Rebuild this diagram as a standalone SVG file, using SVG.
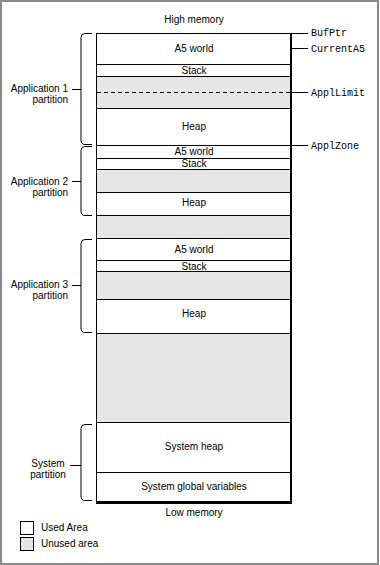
<svg xmlns="http://www.w3.org/2000/svg" width="380" height="565" viewBox="0 0 380 565">
<style>
.t{font-family:"Liberation Sans",Arial,sans-serif;font-size:10px;fill:#000}
.c{text-anchor:middle}
.r{text-anchor:end}
.m{font-family:"Liberation Mono","Courier New",monospace;font-size:10px;fill:#000}
.ln{stroke:#000;stroke-width:1;fill:none}
.u{fill:#e6e6e6}
.w{fill:#fff}
</style>
<rect x="1" y="1" width="377" height="563" fill="#fff" stroke="#8a8a8a" stroke-width="2"/>
<text class="t c" x="194" y="23">High memory</text>
<text class="t c" x="194" y="516">Low memory</text>

<g id="memory-column">
<rect x="96.5" y="33.5" width="194" height="468" class="w" stroke="#000"/>
<rect class="u" x="97" y="77" width="193" height="31"/>
<rect class="u" x="97" y="170" width="193" height="22"/>
<rect class="u" x="97" y="216" width="193" height="22"/>
<rect class="u" x="97" y="272" width="193" height="27"/>
<rect class="u" x="97" y="334" width="193" height="88"/>
<g class="ln">
<path d="M97 64.5H290M97 76.5H290M97 108.5H290M97 145.5H290M97 158.5H290M97 169.5H290M97 192.5H290M97 215.5H290M97 238.5H290M97 260.5H290M97 271.5H290M97 299.5H290M97 333.5H290M97 422.5H290M97 472.5H290"/>
<path d="M97 92.5H290" stroke-dasharray="4 3"/>
</g>
<rect x="290" y="33" width="2" height="471" fill="#000"/>
<rect x="96" y="501" width="196" height="3" fill="#000"/>
</g>

<g id="app1">
<text class="t c" x="194" y="52">A5 world</text>
<text class="t c" x="194" y="73.5">Stack</text>
<text class="t c" x="194" y="130">Heap</text>
</g>
<g id="app2">
<text class="t c" x="194" y="155">A5 world</text>
<text class="t c" x="194" y="166.5">Stack</text>
<text class="t c" x="194" y="206">Heap</text>
</g>
<g id="app3">
<text class="t c" x="194" y="253">A5 world</text>
<text class="t c" x="194" y="269.5">Stack</text>
<text class="t c" x="194" y="317">Heap</text>
</g>
<g id="system">
<text class="t c" x="194" y="450">System heap</text>
<text class="t c" x="194" y="490">System global variables</text>
</g>

<g id="brackets" class="ln">
<path d="M92 33.5H85Q81 33.5 81 37.5V140Q81 144.5 85 144.5H92"/>
<path d="M72 89.5H81"/>
<path d="M92 146.5H85Q81 146.5 81 150.5V211Q81 215.5 85 215.5H92"/>
<path d="M72 181.5H81"/>
<path d="M92 239.5H85Q81 239.5 81 243.5V328Q81 332.5 85 332.5H92"/>
<path d="M72 285.5H81"/>
<path d="M92 424.5H85Q81 424.5 81 428.5V496Q81 500.5 85 500.5H92"/>
<path d="M70 465.5H81"/>
</g>

<g id="partition-labels">
<text class="t r" x="68" y="92">Application 1</text>
<text class="t r" x="68" y="103">partition</text>
<text class="t r" x="68" y="184.5">Application 2</text>
<text class="t r" x="68" y="195.5">partition</text>
<text class="t r" x="68" y="288">Application 3</text>
<text class="t r" x="68" y="299">partition</text>
<text class="t c" x="48" y="467">System</text>
<text class="t c" x="48" y="478">partition</text>
</g>

<g id="pointers">
<path class="ln" d="M292 33.5H308M292 48.5H308M292 92.5H308M292 145.5H308"/>
<text class="m" x="311" y="35.5">BufPtr</text>
<text class="m" x="311" y="52">CurrentA5</text>
<text class="m" x="311" y="96">ApplLimit</text>
<text class="m" x="311" y="149">ApplZone</text>
</g>

<g id="legend">
<rect x="20.5" y="521.5" width="13" height="13" class="w" stroke="#000"/>
<text class="t" x="41" y="531">Used Area</text>
<rect x="20.5" y="537.5" width="13" height="13" class="u" stroke="#000"/>
<text class="t" x="41" y="547">Unused area</text>
</g>
</svg>
